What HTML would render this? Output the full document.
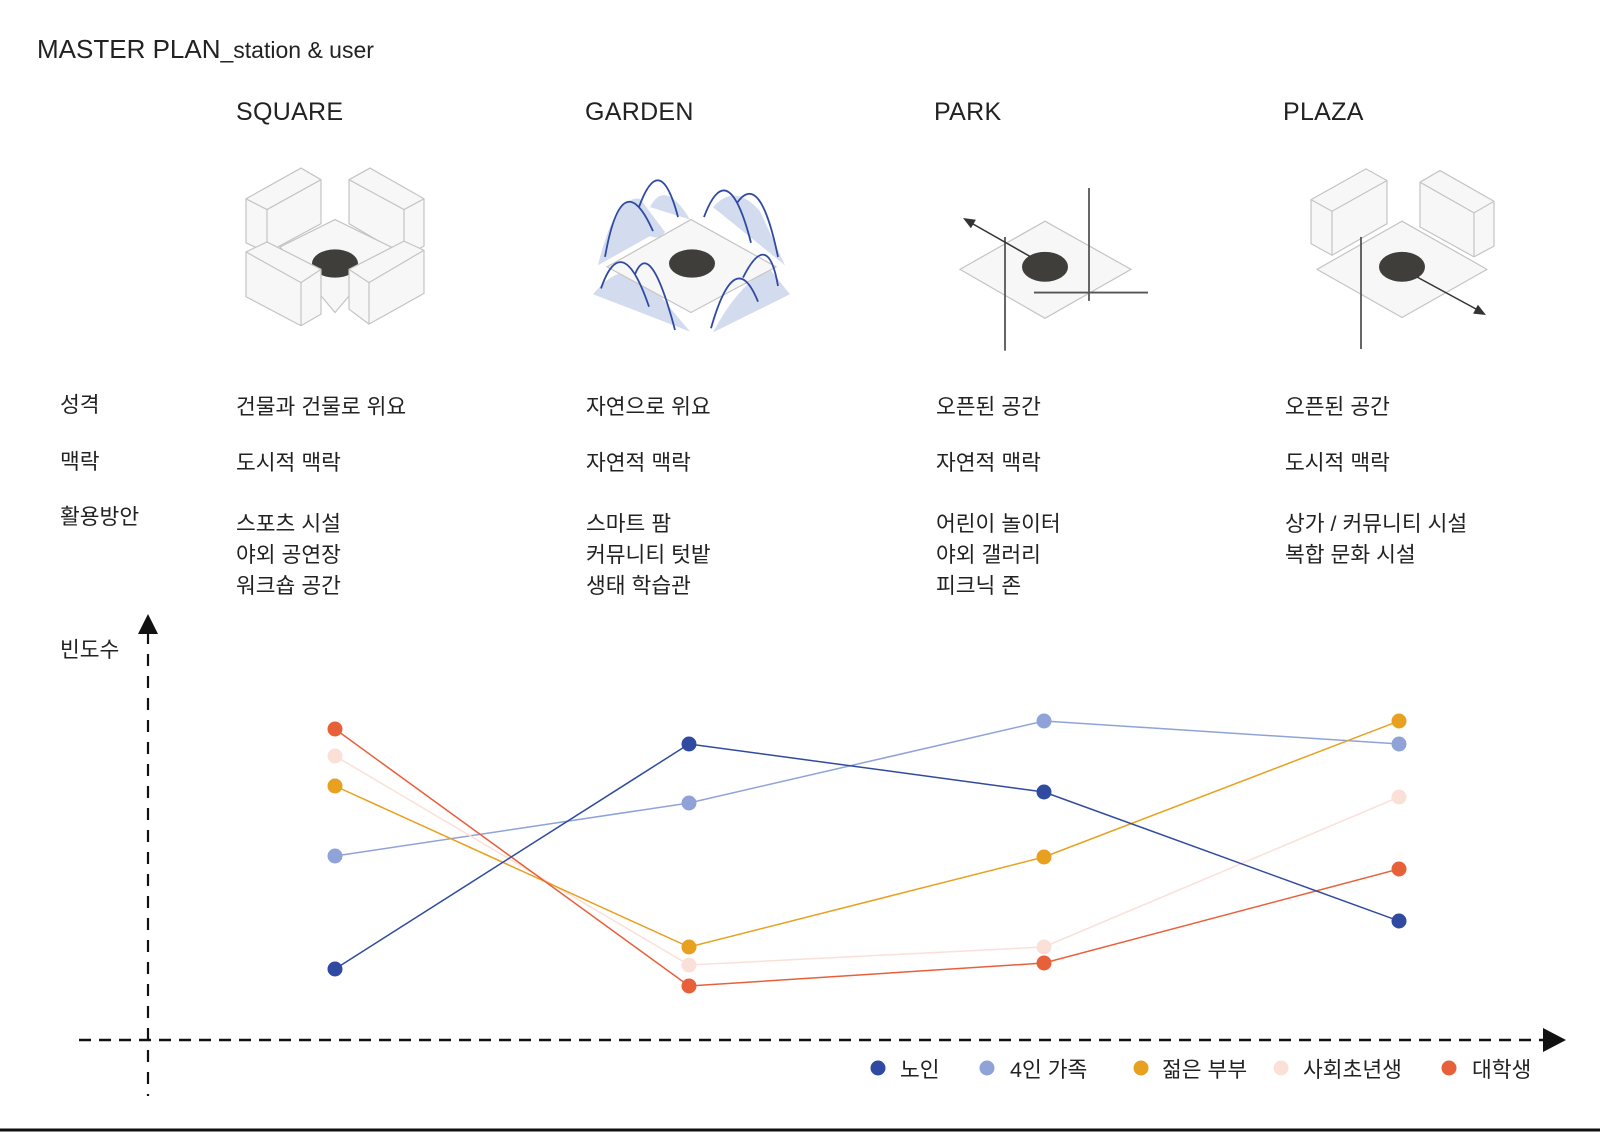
<!DOCTYPE html>
<html><head><meta charset="utf-8"><style>
html,body{margin:0;padding:0;background:#fff;}
body{width:1600px;height:1132px;position:relative;overflow:hidden;font-family:"Liberation Sans","Noto Sans CJK KR",sans-serif;color:#222;}
.t{position:absolute;white-space:nowrap;line-height:1;}
.h{font-size:25px;letter-spacing:0.3px;}
.k{font-size:21.5px;}
svg .n{vector-effect:non-scaling-stroke;}
</style></head><body>
<div class="t" style="left:37px;top:36px;font-size:26px;">MASTER PLAN<span style="font-size:23px">_station &amp; user</span></div>
<div class="t h" style="left:236px;top:100px;">SQUARE</div>
<div class="t h" style="left:585px;top:100px;">GARDEN</div>
<div class="t h" style="left:934px;top:100px;">PARK</div>
<div class="t h" style="left:1283px;top:100px;">PLAZA</div>

<div class="t k" style="left:60px;top:395px;">성격</div>
<div class="t k" style="left:60px;top:452px;">맥락</div>
<div class="t k" style="left:60px;top:507px;">활용방안</div>
<div class="t k" style="left:60px;top:640px;">빈도수</div>

<div class="t k" style="left:236px;top:397px;">건물과 건물로 위요</div>
<div class="t k" style="left:236px;top:453px;">도시적 맥락</div>
<div class="t k" style="left:236px;top:509px;line-height:31px;">스포츠 시설<br>야외 공연장<br>워크숍 공간</div>
<div class="t k" style="left:586px;top:397px;">자연으로 위요</div>
<div class="t k" style="left:586px;top:453px;">자연적 맥락</div>
<div class="t k" style="left:586px;top:509px;line-height:31px;">스마트 팜<br>커뮤니티 텃밭<br>생태 학습관</div>
<div class="t k" style="left:936px;top:397px;">오픈된 공간</div>
<div class="t k" style="left:936px;top:453px;">자연적 맥락</div>
<div class="t k" style="left:936px;top:509px;line-height:31px;">어린이 놀이터<br>야외 갤러리<br>피크닉 존</div>
<div class="t k" style="left:1285px;top:397px;">오픈된 공간</div>
<div class="t k" style="left:1285px;top:453px;">도시적 맥락</div>
<div class="t k" style="left:1285px;top:509px;line-height:31px;">상가 / 커뮤니티 시설<br>복합 문화 시설</div>

<svg width="1600" height="1132" style="position:absolute;left:0;top:0" xmlns="http://www.w3.org/2000/svg">
<g transform="translate(0,188) scale(1,0.83) translate(0,-192)">
<g stroke="#c4c4c4" stroke-width="1.2" fill="#f6f7f6" stroke-linejoin="round">
<!-- SQUARE -->
<polygon class="n" points="246,205 301,168 321,182 321,235 267,270 246,258"/>
<polyline class="n" points="246,205 267,218 321,182" fill="none"/><line class="n" x1="267" y1="218" x2="267" y2="270"/>
<polygon class="n" points="349,182 370,168 424,205 424,262 404,274 349,235"/>
<polyline class="n" points="349,182 404,218 424,205" fill="none"/><line class="n" x1="404" y1="218" x2="404" y2="274"/>
<polygon class="n" points="335,230 391,263 335,342 280,263"/>
<ellipse cx="335" cy="283" rx="23" ry="17" fill="#403e3b" stroke="none"/>
<polygon class="n" points="246,269 267,257 321,290 321,344 301,358 246,323"/>
<polyline class="n" points="246,269 301,306 321,290" fill="none"/><line class="n" x1="301" y1="306" x2="301" y2="358"/>
<polygon class="n" points="349,290 404,256 424,267 424,319 369,356 349,338"/>
<polyline class="n" points="349,290 369,306 424,267" fill="none"/><line class="n" x1="369" y1="306" x2="369" y2="356"/>
</g>
<!-- GARDEN -->
<g fill="#d3dbef" stroke="none">
<path d="M598,285 Q615,200 640,205 L665,245 Q660,255 650,250 Z"/>
<path d="M650,215 Q665,180 690,230 Z"/>
<path d="M713,215 Q735,185 760,220 L785,285 Z"/>
<path d="M593,320 Q620,280 645,300 L690,365 Z"/>
<path d="M713,366 Q740,305 770,290 L790,320 Z"/>
</g>
<polygon class="n" points="691,230 776,287 691,342 607,287" fill="#f6f7f6" stroke="#c4c4c4" stroke-width="1.2"/>
<ellipse cx="692" cy="283" rx="23" ry="17" fill="#403e3b"/>
<g fill="none" stroke="#2f4aa0" stroke-width="1.8">
<path class="n" d="M605,275 Q622,160 653,244"/><path class="n" d="M639,215 Q660,145 678,227"/>
<path class="n" d="M704,227 Q728,150 751,258"/><path class="n" d="M737,210 Q760,170 778,275"/>
<path class="n" d="M601,313 Q622,240 649,335"/><path class="n" d="M635,296 Q650,250 675,363"/>
<path class="n" d="M711,361 Q735,260 758,329"/><path class="n" d="M743,300 Q768,240 778,310"/>
</g>
<!-- PARK -->
<polygon class="n" points="1045,232 1131,290 1045,349 960,290" fill="#f6f7f6" stroke="#c4c4c4" stroke-width="1.2"/>
<ellipse cx="1045" cy="287" rx="23" ry="18" fill="#403e3b"/>
<g stroke="#555" stroke-width="1.8"><line class="n" x1="1005" y1="251" x2="1005" y2="388"/><line class="n" x1="1089" y1="192" x2="1089" y2="328"/><line class="n" x1="1034" y1="318" x2="1148" y2="318"/></g>
<!-- PLAZA -->
<g stroke="#c4c4c4" stroke-width="1.2" fill="#f6f7f6" stroke-linejoin="round">
<polygon class="n" points="1311,206 1366,169 1387,183 1387,235 1332,273 1311,259"/>
<polyline class="n" points="1311,206 1332,220 1387,183" fill="none"/><line class="n" x1="1332" y1="220" x2="1332" y2="273"/>
<polygon class="n" points="1420,185 1440,171 1494,208 1494,262 1474,275 1420,239"/>
<polyline class="n" points="1420,185 1474,222 1494,208" fill="none"/><line class="n" x1="1474" y1="222" x2="1474" y2="275"/>
<polygon class="n" points="1402,232 1487,290 1402,348 1317,290"/>
</g>
<ellipse cx="1402" cy="287" rx="23" ry="18" fill="#403e3b"/>
<line class="n" x1="1361" y1="251" x2="1361" y2="386" stroke="#555" stroke-width="1.8"/>
</g>
<!-- arrows (unscaled) -->
<line x1="1031" y1="257" x2="973" y2="224" stroke="#333" stroke-width="1.5"/>
<polygon points="963,218 975.9,219.7 970.9,228.3" fill="#333"/>
<line x1="1417" y1="277" x2="1476" y2="309" stroke="#333" stroke-width="1.5"/>
<polygon points="1486,315 1473.1,313.6 1477.9,304.8" fill="#333"/>

<!-- axes -->
<line x1="148" y1="632" x2="148" y2="1096" stroke="#111" stroke-width="2.2" stroke-dasharray="12,10"/>
<polygon points="148,614 138,634 158,634" fill="#111"/>
<line x1="79" y1="1040" x2="1545" y2="1040" stroke="#111" stroke-width="2.5" stroke-dasharray="12,8"/>
<polygon points="1566,1040 1543,1028 1543,1052" fill="#111"/>

<!-- series -->
<g stroke-width="1.5" fill="none">
<polyline points="335,856 689,803 1044,721 1399,744" stroke="#8fa3d8"/>
<polyline points="335,756 689,965 1044,947 1399,797" stroke="#fbe0d8"/>
<polyline points="335,786 689,947 1044,857 1399,721" stroke="#e8a020"/>
<polyline points="335,729 689,986 1044,963 1399,869" stroke="#e8603a"/>
<polyline points="335,969 689,744 1044,792 1399,921" stroke="#2f4aa0"/>
</g>
<g fill="#8fa3d8"><circle cx="335" cy="856" r="7.5"/><circle cx="689" cy="803" r="7.5"/><circle cx="1044" cy="721" r="7.5"/><circle cx="1399" cy="744" r="7.5"/></g>
<g fill="#fbe0d8"><circle cx="335" cy="756" r="7.5"/><circle cx="689" cy="965" r="7.5"/><circle cx="1044" cy="947" r="7.5"/><circle cx="1399" cy="797" r="7.5"/></g>
<g fill="#e8a020"><circle cx="335" cy="786" r="7.5"/><circle cx="689" cy="947" r="7.5"/><circle cx="1044" cy="857" r="7.5"/><circle cx="1399" cy="721" r="7.5"/></g>
<g fill="#e8603a"><circle cx="335" cy="729" r="7.5"/><circle cx="689" cy="986" r="7.5"/><circle cx="1044" cy="963" r="7.5"/><circle cx="1399" cy="869" r="7.5"/></g>
<g fill="#2f4aa0"><circle cx="335" cy="969" r="7.5"/><circle cx="689" cy="744" r="7.5"/><circle cx="1044" cy="792" r="7.5"/><circle cx="1399" cy="921" r="7.5"/></g>

<!-- legend dots -->
<circle cx="878" cy="1068" r="7.5" fill="#2f4aa0"/>
<circle cx="987" cy="1068" r="7.5" fill="#8fa3d8"/>
<circle cx="1141" cy="1068" r="7.5" fill="#e8a020"/>
<circle cx="1281" cy="1068" r="7.5" fill="#fbe0d8"/>
<circle cx="1449" cy="1068" r="7.5" fill="#e8603a"/>
<line x1="0" y1="1130" x2="1600" y2="1130" stroke="#111" stroke-width="3"/>
</svg>
<div class="t k" style="left:900px;top:1060px;">노인</div>
<div class="t k" style="left:1010px;top:1060px;">4인 가족</div>
<div class="t k" style="left:1162px;top:1060px;">젊은 부부</div>
<div class="t k" style="left:1303px;top:1060px;">사회초년생</div>
<div class="t k" style="left:1472px;top:1060px;">대학생</div>
</body></html>
